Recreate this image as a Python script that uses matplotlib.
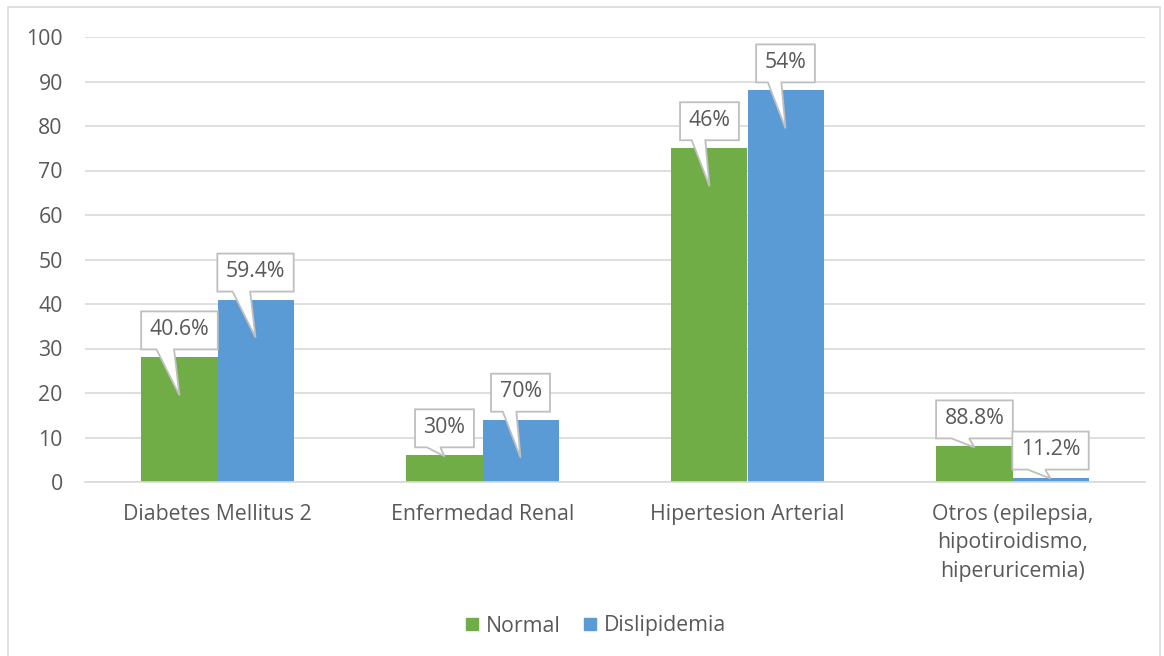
import numpy as np
import matplotlib
matplotlib.use("Agg")
import matplotlib.pyplot as plt
from matplotlib.patches import Patch, Polygon, Rectangle
from matplotlib.transforms import IdentityTransform

categories = ["Diabetes Mellitus 2", "Enfermedad Renal", "Hipertesion Arterial",
              "Otros (epilepsia,\nhipotiroidismo,\nhiperuricemia)"]
normal = [28, 6, 75, 8]
dislipidemia = [41, 14, 88, 1]
normal_labels = ["40.6%", "30%", "46%", "88.8%"]
dislipidemia_labels = ["59.4%", "70%", "54%", "11.2%"]
yticks = [0, 10, 20, 30, 40, 50, 60, 70, 80, 90, 100]

GREEN = "#70AD47"
BLUE = "#5B9BD5"
TEXT = "#595959"
GRID = "#D9D9D9"
FONT = "Open Sans"
FS = 15.3

plt.rcParams["font.family"] = [FONT, "DejaVu Sans"]

W, H, DPI = 1164, 656, 100
fig = plt.figure(figsize=(W / DPI, H / DPI), dpi=DPI)
ax = fig.add_axes([85 / W, 1 - 482 / H, (1145 - 85) / W, (482 - 37) / H])

x = np.arange(len(categories))
bw = 0.287
ax.bar(x - bw / 2, normal, bw, color=GREEN, zorder=2)
ax.bar(x + bw / 2, dislipidemia, bw, color=BLUE, zorder=2)

ax.set_xlim(-0.5, len(categories) - 0.5)
ax.set_ylim(0, 100)
ax.set_yticks(yticks)
ax.set_yticklabels([str(t) for t in yticks])
ax.set_xticks(x)
ax.set_xticklabels(categories, linespacing=1.47)
ax.tick_params(axis="both", length=0, labelsize=FS, colors=TEXT)
ax.tick_params(axis="y", pad=16)
ax.tick_params(axis="x", pad=15.5)
ax.grid(axis="y", color=GRID, linewidth=1.2, zorder=0)
ax.set_axisbelow(True)
for side in ["top", "right", "left"]:
    ax.spines[side].set_visible(False)
ax.spines["bottom"].set_color(GRID)
ax.spines["bottom"].set_linewidth(1.2)

# outer chart border
fig.patches.append(Rectangle((8 / W, -0.01), (1160 - 8) / W, 1 - 7 / H + 0.01,
                             transform=fig.transFigure, fill=False,
                             edgecolor=GRID, linewidth=1.2))

fig.legend(handles=[Patch(color=GREEN, label="Normal"),
                    Patch(color=BLUE, label="Dislipidemia")],
           loc="center", bbox_to_anchor=(596 / W, 1 - 626 / H), ncol=2,
           frameon=False, fontsize=FS, labelcolor=TEXT,
           handlelength=0.55, handleheight=0.55, handletextpad=0.38,
           columnspacing=1.1)

# callout data labels
fig.canvas.draw()
renderer = fig.canvas.get_renderer()


def callout(xc, value, label):
    px, py = ax.transData.transform((xc, value))
    base_px = ax.transData.transform((xc, 0))[1]
    t = ax.text(0, 0, label, fontsize=FS, color=TEXT, ha="center",
                va="center", transform=IdentityTransform(), zorder=6)
    tw = t.get_window_extent(renderer).width
    w = tw + 17
    h = 38
    if py - base_px > 45:
        tip_y = py - 38
    else:
        tip_y = py - 1
    bottom = py + 8
    top = bottom + h
    left, right = px - w / 2, px + w / 2
    bl, br = px - 0.3 * w, px - 0.07 * w
    poly = Polygon([(left, bottom), (bl, bottom), (px, tip_y), (br, bottom),
                    (right, bottom), (right, top), (left, top)],
                   closed=True, facecolor="white", edgecolor="#BFBFBF",
                   linewidth=1.3, transform=IdentityTransform(), zorder=5,
                   clip_on=False)
    ax.add_patch(poly)
    t.set_position((px, (bottom + top) / 2 + 1))


for xi, v, lab in zip(x - bw / 2, normal, normal_labels):
    callout(xi, v, lab)
for xi, v, lab in zip(x + bw / 2, dislipidemia, dislipidemia_labels):
    callout(xi, v, lab)

fig.savefig("out.png", dpi=DPI)
